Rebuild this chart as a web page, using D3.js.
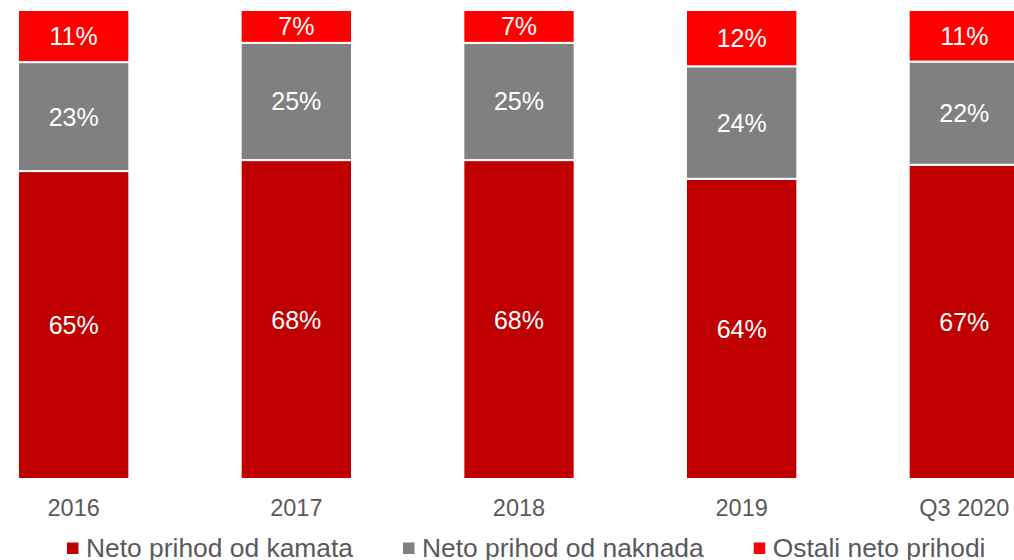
<!DOCTYPE html>
<html>
<head>
<meta charset="utf-8">
<script src="https://cdn.jsdelivr.net/npm/d3@7"></script>
<style>
  body { margin: 0; background: #fff; }
  svg { display: block; font-family: "Liberation Sans", Arial, Helvetica, sans-serif; }
</style>
</head>
<body>
<div id="chart"></div>
<script>
let w = 1014
let h = 560

// data (percent shares per period)
let PERIODS = ["2016", "2017", "2018", "2019", "Q3 2020"]
let KAMATA = [65, 68, 68, 64, 67]
let NAKNADA = [23, 25, 25, 24, 22]
let OSTALI = [11, 7, 7, 12, 11]
let SERIES = ["Neto prihod od kamata", "Neto prihod od naknada", "Ostali neto prihodi"]
let COLORS = ["#C00000", "#808080", "#FF0000"]

let rows = PERIODS.map((p, i) => ({
  period: p,
  kamata: KAMATA[i],
  naknada: NAKNADA[i],
  ostali: OSTALI[i]
}))
let keys = ["kamata", "naknada", "ostali"]

let svg = d3.select("#chart")
  .append("svg")
  .attr("width", w)
  .attr("height", h)

let x = d3.scaleBand()
  .domain(PERIODS)
  .range([18, 1020])
  .paddingInner(0.5)
  .paddingOuter(0)

let y = d3.scaleLinear()
  .domain([0, 1])
  .range([479, 10])

// stacked to 100%
let stacked = d3.stack()
  .keys(keys)
  .offset(d3.stackOffsetExpand)(rows)

let layers = svg.selectAll("g.layer")
  .data(stacked)
  .enter()
  .append("g")
  .attr("class", "layer")
  .attr("fill", (d, i) => COLORS[i])

layers.selectAll("rect")
  .data(d => d)
  .enter()
  .append("rect")
  .attr("x", d => x(d.data.period))
  .attr("y", d => y(d[1]))
  .attr("width", x.bandwidth())
  .attr("height", d => y(d[0]) - y(d[1]))
  .attr("stroke", "#fff")
  .attr("stroke-width", 2)

// value labels
layers.each(function(layer) {
  d3.select(this).selectAll("text")
    .data(layer)
    .enter()
    .append("text")
    .attr("x", d => x(d.data.period) + x.bandwidth() / 2)
    .attr("y", d => (y(d[0]) + y(d[1])) / 2)
    .attr("dy", "0.36em")
    .attr("text-anchor", "middle")
    .attr("fill", "#fff")
    .attr("font-size", 25)
    .text(d => d.data[layer.key] + "%")
})

// x axis
let xAxis = d3.axisBottom(x).tickSize(0).tickPadding(0)
let gx = svg.append("g")
  .attr("transform", "translate(0, 499)")
  .call(xAxis)
gx.select(".domain").remove()
gx.selectAll("text")
  .attr("font-size", 23.5)
  .attr("fill", "#595959")
  .attr("dy", "0.71em")

// legend
let legend = svg.append("g")
let lx = 67
SERIES.forEach((s, i) => {
  let item = legend.append("g").attr("transform", "translate(" + lx + ",0)")
  item.append("rect")
    .attr("x", 0)
    .attr("y", 542.5)
    .attr("width", 11.5)
    .attr("height", 11.5)
    .attr("fill", COLORS[i])
  let t = item.append("text")
    .attr("x", 19)
    .attr("y", 557)
    .attr("font-size", 26.4)
    .attr("fill", "#595959")
    .text(s)
  lx += 19 + t.node().getComputedTextLength() + 50
})
</script>
</body>
</html>
